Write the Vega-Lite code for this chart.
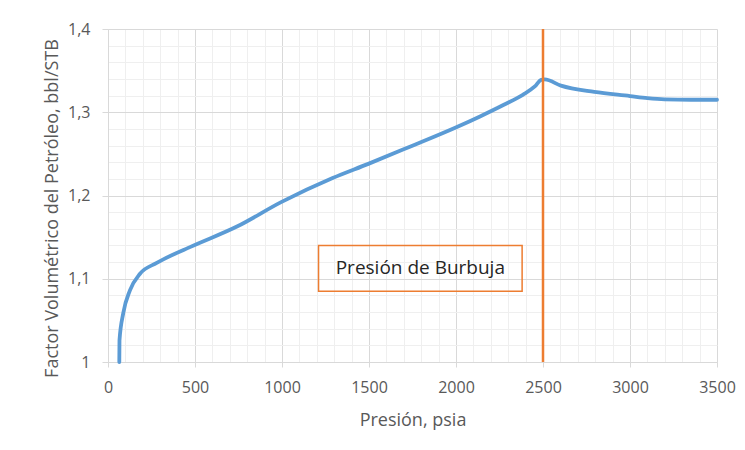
{
  "$schema": "https://vega.github.io/schema/vega-lite/v6.json",
  "width": 609,
  "height": 333,
  "autosize": {"type": "none"},
  "padding": {"left": 108, "top": 29, "right": 28, "bottom": 88},
  "background": "white",
  "config": {
    "view": {"stroke": null},
    "font": "Open Sans"
  },
  "datasets": {
    "curve": [
      {"x": 65, "y": 1.0},
      {"x": 66, "y": 1.026},
      {"x": 88, "y": 1.059},
      {"x": 126, "y": 1.086},
      {"x": 184, "y": 1.106},
      {"x": 280, "y": 1.119},
      {"x": 471, "y": 1.138},
      {"x": 744, "y": 1.163},
      {"x": 995, "y": 1.192},
      {"x": 1291, "y": 1.221},
      {"x": 1496, "y": 1.238},
      {"x": 1728, "y": 1.258},
      {"x": 2002, "y": 1.282},
      {"x": 2138, "y": 1.295},
      {"x": 2275, "y": 1.309},
      {"x": 2384, "y": 1.321},
      {"x": 2453, "y": 1.331},
      {"x": 2490, "y": 1.339},
      {"x": 2510, "y": 1.3395},
      {"x": 2603, "y": 1.332},
      {"x": 2795, "y": 1.3245},
      {"x": 3000, "y": 1.3195},
      {"x": 3100, "y": 1.317},
      {"x": 3200, "y": 1.3155},
      {"x": 3350, "y": 1.315},
      {"x": 3500, "y": 1.315}
    ],
    "box": [
      {"x": 1210, "x2": 2380, "y": 1.085, "y2": 1.14}
    ],
    "label": [
      {"x": 1795, "y": 1.1125, "label": "Presión de Burbuja"}
    ],
    "bubble": [{"x": 2500, "y": 1.0, "y2": 1.4}]
  },
  "encoding": {
    "x": {
      "field": "x", "type": "quantitative",
      "scale": {"domain": [0, 3500], "nice": false, "zero": false},
      "axis": {
        "title": "Presión, psia",
        "values": [0,100,200,300,400,500,600,700,800,900,1000,1100,1200,1300,1400,1500,1600,1700,1800,1900,2000,2100,2200,2300,2400,2500,2600,2700,2800,2900,3000,3100,3200,3300,3400,3500],
        "labelExpr": "abs(datum.value/500 - round(datum.value/500)) < 0.001 ? format(datum.value, 'd') : ''",
        "grid": true,
        "gridColor": {"condition": {"test": "abs(datum.value/500 - round(datum.value/500)) < 0.001", "value": "#d9d9d9"}, "value": "#efefef"},
        "gridWidth": 1,
        "tickColor": "#d9d9d9",
        "tickOpacity": {"condition": {"test": "abs(datum.value/500 - round(datum.value/500)) < 0.001", "value": 1}, "value": 0},
        "tickSize": 5,
        "domainColor": "#d9d9d9",
        "labelColor": "#595959",
        "labelFontSize": 16,
        "labelPadding": 12,
        "labelFlush": false,
        "labelOverlap": false,
        "titleColor": "#595959",
        "titleFontSize": 18,
        "titleFontWeight": "normal",
        "titleBaseline": "alphabetic",
        "titleY": 63
      }
    },
    "y": {
      "field": "y", "type": "quantitative",
      "scale": {"domain": [1, 1.4], "nice": false, "zero": false},
      "axis": {
        "title": "Factor Volumétrico del Petróleo, bbl/STB",
        "values": [1,1.02,1.04,1.06,1.08,1.1,1.12,1.14,1.16,1.18,1.2,1.22,1.24,1.26,1.28,1.3,1.32,1.34,1.36,1.38,1.4],
        "labelExpr": "abs(datum.value*10 - round(datum.value*10)) < 0.001 ? (abs(datum.value - 1) < 0.001 ? '1' : replace(format(datum.value, '.1f'), '.', ',')) : ''",
        "grid": true,
        "gridColor": {"condition": {"test": "abs(datum.value*10 - round(datum.value*10)) < 0.001", "value": "#d9d9d9"}, "value": "#efefef"},
        "gridWidth": 1,
        "tickColor": "#d9d9d9",
        "tickOpacity": {"condition": {"test": "abs(datum.value*10 - round(datum.value*10)) < 0.001", "value": 1}, "value": 0},
        "tickSize": 6,
        "domainColor": "#d9d9d9",
        "labelColor": "#595959",
        "labelFontSize": 16,
        "labelPadding": 12,
        "labelFlush": false,
        "labelOverlap": false,
        "titleColor": "#595959",
        "titleFontSize": 18,
        "titleFontWeight": "normal",
        "titleBaseline": "alphabetic",
        "titleX": -51,
        "titleY": 179,
        "titleAlign": "center"
      }
    }
  },
  "layer": [
    {
      "data": {"name": "box"},
      "mark": {"type": "rect", "fill": "transparent", "stroke": "#ED7D31", "strokeWidth": 1.5},
      "encoding": {
        "x2": {"field": "x2"},
        "y2": {"field": "y2"}
      }
    },
    {
      "data": {"name": "label"},
      "mark": {"type": "text", "fontSize": 19, "color": "#262626", "align": "center", "baseline": "middle"},
      "encoding": {
        "text": {"field": "label"}
      }
    },
    {
      "data": {"name": "curve"},
      "mark": {"type": "line", "color": "#5B9BD5", "strokeWidth": 3.8, "interpolate": "monotone", "strokeCap": "round"},
      "encoding": {}
    },
    {
      "data": {"name": "bubble"},
      "mark": {"type": "rule", "color": "#ED7D31", "strokeWidth": 2.5},
      "encoding": {
        "y2": {"field": "y2"}
      }
    }
  ]
}
